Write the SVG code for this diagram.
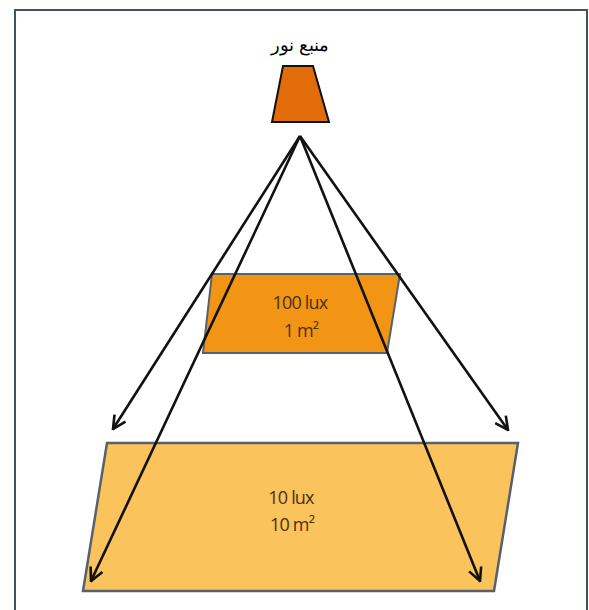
<svg xmlns="http://www.w3.org/2000/svg" width="589" height="610" viewBox="0 0 589 610">
<defs>
<style>
.lbl{font-family:"Open Sans","Liberation Sans",sans-serif;font-size:18px;fill:#4a3010;text-anchor:middle;letter-spacing:-0.8px}
.arr{stroke:#111;stroke-width:2.6;fill:none;marker-end:url(#ah)}
</style>
<marker id="ah" viewBox="0 0 12 12" refX="11" refY="6" markerWidth="6" markerHeight="6" orient="auto" markerUnits="strokeWidth">
<polyline points="1,1 11,6 1,11" fill="none" stroke="#111" stroke-width="2"/>
</marker>
</defs>
<rect x="0" y="0" width="589" height="610" fill="#fff"/>
<rect x="15" y="10" width="572" height="620" fill="none" stroke="#3d5560" stroke-width="2"/>
<g id="source">
<text x="300" y="51" font-family="'Liberation Sans',Arial,sans-serif" font-size="18" text-anchor="middle" fill="#000">منبع نور</text>
<polygon points="283,66 313,66 329,122 272,122" fill="#e36c0a" stroke="#111" stroke-width="2"/>
</g>
<g id="area1">
<polygon points="212,274 400,274 387,353 203,353" fill="#f39514" stroke="#55626e" stroke-width="2"/>
<text class="lbl" x="300" y="309">100 lux</text>
<text class="lbl" x="301" y="337">1 m²</text>
</g>
<g id="area10">
<polygon points="107,443 518,443 494,591 83,591" fill="#fbc35c" stroke="#55626e" stroke-width="2.5"/>
<text class="lbl" x="291" y="504">10 lux</text>
<text class="lbl" x="292" y="531">10 m²</text>
</g>
<g id="connectors">
<line class="arr" x1="300" y1="136" x2="113" y2="429"/>
<line class="arr" x1="300" y1="136" x2="508" y2="430"/>
<line class="arr" x1="300" y1="136" x2="91" y2="581"/>
<line class="arr" x1="300" y1="136" x2="480" y2="581"/>
</g>
</svg>
